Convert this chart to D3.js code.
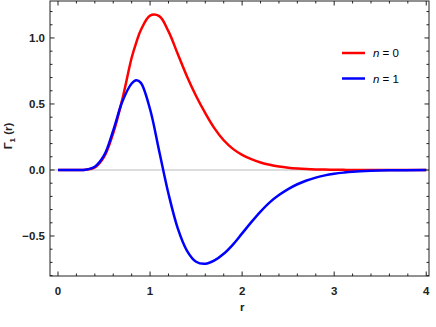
<!DOCTYPE html>
<html>
<head>
<meta charset="utf-8">
<script src="https://cdn.jsdelivr.net/npm/d3@7"></script>
<style>
  body { margin: 0; background: #fff; }
  text { font-family: "Liberation Sans", Arial, sans-serif; }
</style>
</head>
<body>
<div id="chart"></div>
<script>
// values
var rVals = [0, 0.1, 0.2, 0.3, 0.4, 0.5, 0.6, 0.7, 0.8, 0.85, 0.9, 1.0, 1.1, 1.2, 1.3, 1.4, 1.5, 1.6, 1.7, 1.8, 1.9, 2.0, 2.1, 2.2, 2.3, 2.4, 2.5, 2.6, 2.7, 2.8, 2.9, 3.0, 3.1, 3.2, 3.4, 3.6, 4.0];
var gammaN0 = [0, 0, 0, 0.002, 0.02, 0.10, 0.28, 0.54, 0.85, 0.965, 1.06, 1.17, 1.165, 1.05, 0.88, 0.71, 0.56, 0.43, 0.315, 0.225, 0.16, 0.115, 0.082, 0.057, 0.039, 0.026, 0.017, 0.011, 0.007, 0.0045, 0.003, 0.0018, 0.001, 0.0006, 0.0002, 0, 0];
var gammaN1 = [0, 0, 0, 0.002, 0.025, 0.11, 0.30, 0.52, 0.655, 0.68, 0.66, 0.46, 0.14, -0.18, -0.44, -0.61, -0.695, -0.71, -0.685, -0.635, -0.565, -0.48, -0.395, -0.315, -0.245, -0.19, -0.145, -0.108, -0.08, -0.058, -0.041, -0.029, -0.02, -0.013, -0.006, -0.0025, 0];
var seriesNames = ["0", "1"];
var seriesColors = ["#ff0000", "#0000ff"];
var xTicks = [0, 1, 2, 3, 4];
var yTicks = [-0.5, 0, 0.5, 1.0];

var width = 436, height = 327;
var margin = {top: 1, right: 7, bottom: 51, left: 50};

var svg = d3.select("#chart").append("svg")
    .attr("width", width)
    .attr("height", height);

var x = d3.scaleLinear().domain([-0.087, 4.03]).range([margin.left, width - margin.right]);
var y = d3.scaleLinear().domain([-0.803, 1.28]).range([height - margin.bottom, margin.top]);

// zero line
svg.append("line")
    .attr("x1", x.range()[0]).attr("x2", x.range()[1])
    .attr("y1", y(0)).attr("y2", y(0))
    .attr("stroke", "#bbbbbb").attr("stroke-width", 1);

var series = [gammaN0, gammaN1];
var line = d3.line()
    .x(function(d, i) { return x(rVals[i]); })
    .y(function(d) { return y(d); })
    .curve(d3.curveCatmullRom.alpha(0.5));

series.forEach(function(s, k) {
    svg.append("path")
        .attr("d", line(s))
        .attr("fill", "none")
        .attr("stroke", seriesColors[k])
        .attr("stroke-width", 2.5);
});

// frame with inward ticks on every side
var frame = svg.append("g").attr("stroke", "#222").attr("fill", "none");
frame.append("rect")
    .attr("x", x.range()[0]).attr("y", y.range()[1])
    .attr("width", x.range()[1] - x.range()[0])
    .attr("height", y.range()[0] - y.range()[1])
    .attr("stroke-width", 1);

var xMinor = d3.range(0, 4.01, 0.2);
var yMinor = d3.range(-0.8, 1.25, 0.1);

xMinor.forEach(function(t) {
    var major = Math.abs(t - Math.round(t)) < 1e-6;
    var len = major ? 4.5 : 2.5;
    frame.append("line").attr("x1", x(t)).attr("x2", x(t))
        .attr("y1", y.range()[0]).attr("y2", y.range()[0] - len);
    frame.append("line").attr("x1", x(t)).attr("x2", x(t))
        .attr("y1", y.range()[1]).attr("y2", y.range()[1] + len);
});
yMinor.forEach(function(t) {
    var major = Math.abs(t * 2 - Math.round(t * 2)) < 1e-6;
    var len = major ? 4.5 : 2.5;
    frame.append("line").attr("y1", y(t)).attr("y2", y(t))
        .attr("x1", x.range()[0]).attr("x2", x.range()[0] + len);
    frame.append("line").attr("y1", y(t)).attr("y2", y(t))
        .attr("x1", x.range()[1]).attr("x2", x.range()[1] - len);
});

// tick labels
svg.selectAll(".xlab").data(xTicks).enter().append("text")
    .attr("class", "xlab")
    .attr("x", function(d) { return x(d); })
    .attr("y", 295)
    .attr("text-anchor", "middle")
    .attr("font-size", 11.5)
    .attr("font-weight", "bold")
    .attr("fill", "#222")
    .text(function(d) { return d; });

svg.selectAll(".ylab").data(yTicks).enter().append("text")
    .attr("class", "ylab")
    .attr("x", 45)
    .attr("y", function(d) { return y(d) + 4; })
    .attr("text-anchor", "end")
    .attr("font-size", 11.5)
    .attr("font-weight", "bold")
    .attr("fill", "#222")
    .text(function(d) { return d3.format(".1f")(d).replace("-", "\u2212"); });

// axis titles
svg.append("text")
    .attr("x", x(2)).attr("y", 311)
    .attr("text-anchor", "middle")
    .attr("font-size", 11.5)
    .attr("font-weight", "bold")
    .attr("fill", "#222")
    .text("r");

var yt = svg.append("text")
    .attr("transform", "translate(12,136) rotate(-90)")
    .attr("text-anchor", "middle")
    .attr("font-size", 11.5)
    .attr("font-weight", "bold")
    .attr("fill", "#222");
yt.append("tspan").text("\u0393");
yt.append("tspan").attr("font-size", 8).attr("dy", 3).text("1");
yt.append("tspan").attr("dy", -3).text(" (r)");

// legend
var legend = svg.append("g");
seriesNames.forEach(function(name, k) {
    var ly = 53 + k * 25.5;
    legend.append("line")
        .attr("x1", 342).attr("x2", 365)
        .attr("y1", ly).attr("y2", ly)
        .attr("stroke", seriesColors[k]).attr("stroke-width", 2.5);
    var t = legend.append("text")
        .attr("x", 373).attr("y", ly + 4)
        .attr("font-size", 11.5);
    t.append("tspan").attr("font-style", "italic").text("n");
    t.append("tspan").text(" = " + name);
});
</script>
</body>
</html>
